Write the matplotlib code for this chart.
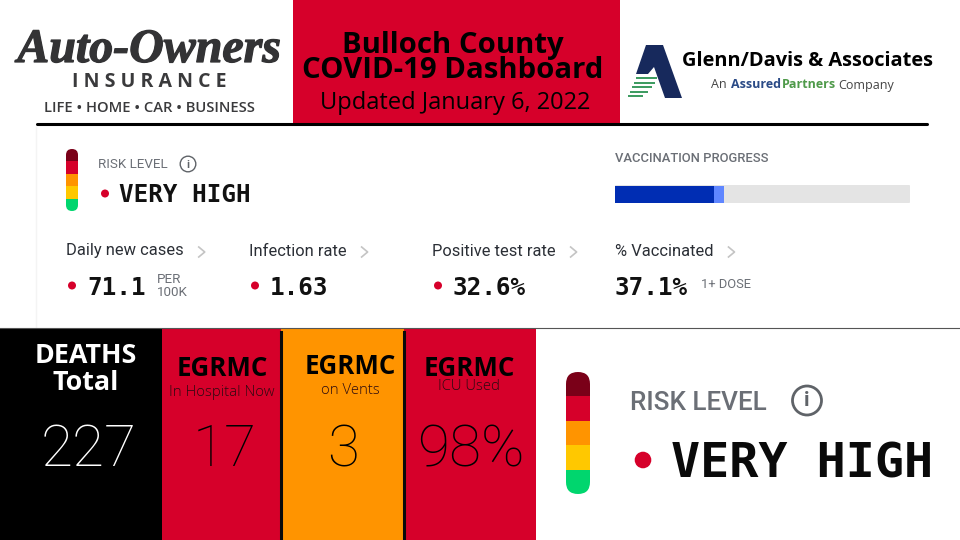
import matplotlib
matplotlib.use("Agg")
import matplotlib.pyplot as plt
import matplotlib.patheffects as pe
from matplotlib.patches import Rectangle, Circle, FancyBboxPatch, Polygon

# data
risk_colors = ["#7a0018", "#d6002a", "#ff9400", "#ffc800", "#00d66e"]
metric_names = ["Daily new cases", "Infection rate", "Positive test rate", "% Vaccinated"]
metric_values = ["71.1", "1.63", "32.6%", "37.1%"]
metric_x = [66, 249, 432, 615]
fully_vaccinated = 33.6
one_dose = 37.1

tile_heads = ["DEATHS\nTotal", "EGRMC", "EGRMC", "EGRMC"]
tile_subs = ["", "In Hospital Now", "on Vents", "ICU Used"]
tile_values = ["227", "17", "3", "98%"]
tile_edges = [0, 162, 281, 404, 536]
tile_colors = ["#000000", "#d6002a", "#ff9400", "#d6002a"]

RED = "#d6002a"
MONO = "DejaVu Sans Mono"

fig = plt.figure(figsize=(9.6, 5.4), dpi=100)
ax = fig.add_axes([0, 0, 1, 1])
ax.set_xlim(0, 960)
ax.set_ylim(540, 0)
ax.axis("off")


def risk_bar(x, y, w, h):
    # stacked colours with round ends
    outline = FancyBboxPatch((x + w / 2, y + w / 2), 0, h - w, boxstyle=f"round,pad={w / 2}",
                             fc="none", ec="none")
    ax.add_patch(outline)
    seg = h / len(risk_colors)
    for i, c in enumerate(risk_colors):
        r = Rectangle((x, y + i * seg), w, seg + 0.3, fc=c, ec="none")
        ax.add_patch(r)
        r.set_clip_path(outline)


def info_icon(x, y, r, lw, size):
    ax.add_patch(Circle((x, y), r, fc="none", ec="#5f6368", lw=lw))
    ax.text(x, y + 0.5, "i", ha="center", va="center", fontsize=size, color="#5f6368",
            family="Roboto", weight="bold")


def chevron(x, y):
    ax.plot([x, x + 6, x], [y - 5, y, y + 5], color="#c4c4c4", lw=1.2)


# header
ax.add_patch(Rectangle((293, 0), 327, 123, fc=RED, ec="none"))
ax.text(453, 58, "Bulloch County\nCOVID-19 Dashboard", ha="center", va="center", fontsize=21.1,
        family="Open Sans", weight="bold", color="black", linespacing=0.86)
ax.text(455, 103, "Updated January 6, 2022", ha="center", va="center", fontsize=17,
        family="Open Sans", color="black")
ax.plot([37, 927], [124, 124], color="black", lw=2.2, solid_capstyle="round")

# left logo
ax.text(149, 50, "Auto-Owners", ha="center", va="center", fontsize=34.5, color="#333335",
        family="Liberation Serif", weight="bold", style="italic",
        path_effects=[pe.withStroke(linewidth=0.9, foreground="#333335")])
ax.text(149, 82, "I N S U R A N C E", ha="center", va="center", fontsize=14, color="#3a3a3c",
        family="Open Sans", weight="bold")
ax.text(149, 108, "LIFE • HOME • CAR • BUSINESS", ha="center", va="center", fontsize=10.6,
        color="#3a3a3c", family="Open Sans", weight="semibold")

# right logo
ax.add_patch(Polygon([[646, 45], [663, 45], [682, 98], [665, 98], [654, 67], [648, 74], [636, 74]],
                     fc="#17295c", ec="none"))
for y0, x0, x1 in zip([77, 81.5, 86, 90.5, 95], [636, 634, 632, 630, 628], [657, 655, 652, 648, 643]):
    ax.add_patch(Rectangle((x0, y0), x1 - x0, 2.3, fc="#3f9c62", ec="none"))
ax.text(807.5, 60.5, "Glenn/Davis & Associates", ha="center", va="center", fontsize=14.4,
        family="Open Sans", weight="bold", color="black")
ax.text(711, 85, "An", va="center", fontsize=9, family="Open Sans", color="#444444")
ax.text(731, 85, "Assured", va="center", fontsize=9, family="Open Sans", weight="bold", color="#2a4a86")
ax.text(782, 85, "Partners", va="center", fontsize=9, family="Open Sans", weight="bold", color="#4f9a4a")
ax.text(838, 85, "Company", va="center", fontsize=9, family="Open Sans", color="#444444")

# dashboard screenshot part
ax.plot([36, 36], [127, 327], color="#f4f4f4", lw=1)
risk_bar(66, 149, 12, 62)
ax.text(98, 164, "RISK LEVEL", va="center", fontsize=9.6, family="Roboto", color="#6b6f76")
info_icon(188, 164, 7.8, 1.0, 8)
ax.add_patch(Circle((105, 193.5), 4, fc=RED, ec="none"))
ax.text(119, 195, "VERY HIGH", va="center", fontsize=17.5, family=MONO, weight="bold", color="#111111")

ax.text(615, 158.5, "VACCINATION PROGRESS", va="center", fontsize=9.4, family="Roboto",
        weight="medium", color="#6b6f76")
track_x, track_w = 615, 295
ax.add_patch(FancyBboxPatch((track_x + 1, 186), track_w - 2, 16, boxstyle="round,pad=1",
                            fc="#e4e4e4", ec="none"))
ax.barh(194, track_w * one_dose / 100, height=17, left=track_x, color="#5f86ff")
ax.barh(194, track_w * fully_vaccinated / 100, height=17, left=track_x, color="#002db3")

for name, val, x in zip(metric_names, metric_values, metric_x):
    t = ax.text(x, 251, name, va="center", fontsize=11.9, family="Roboto", color="#2b2f36")
    ex = t.get_window_extent(fig.canvas.get_renderer())
    chevron(ex.x1 + 15, 252)
    vx = x
    if name != "% Vaccinated":
        ax.add_patch(Circle((x + 6, 285.5), 4, fc=RED, ec="none"))
        vx = x + 21
    ax.text(vx, 288, val, va="center", fontsize=17.5, family=MONO, weight="bold", color="#111111")
ax.text(157, 279.5, "PER", va="center", fontsize=9.6, family="Roboto", color="#6b6f76")
ax.text(157, 292, "100K", va="center", fontsize=9.6, family="Roboto", color="#6b6f76")
ax.text(701, 284.5, "1+ DOSE", va="center", fontsize=9.3, family="Roboto", color="#6b6f76")

# bottom tiles
ax.plot([0, 960], [327.5, 327.5], color="#555555", lw=0.8)
for i in range(len(tile_values)):
    left, right = tile_edges[i], tile_edges[i + 1]
    ax.add_patch(Rectangle((left, 328), right - left, 212, fc=tile_colors[i], ec="none"))
for x in tile_edges[2:4]:
    ax.plot([x, x], [332, 540], color="#0a0a0a", lw=2.2)

ax.text(86, 369.5, tile_heads[0], ha="center", va="center", fontsize=19.4, family="Open Sans",
        weight="bold", color="white", linespacing=1.07)
head_x = [0, 222, 350, 469]
head_y = [0, 368, 366, 368]
sub_x = [0, 222, 350, 469]
sub_y = [0, 392, 390, 387]
for i in range(1, 4):
    ax.text(head_x[i], head_y[i], tile_heads[i], ha="center", va="center", fontsize=18.6,
            family="Open Sans", weight="bold", color="black")
    ax.text(sub_x[i], sub_y[i], tile_subs[i], ha="center", va="center", fontsize=10.7,
            family="Open Sans", weight="light", color="#2a0a10")
val_x = [88.5, 224.5, 343, 471]
val_color = ["white", "black", "black", "black"]
for i in range(4):
    ax.text(val_x[i], 451, tile_values[i], ha="center", va="center", fontsize=42,
            family="Roboto", weight="light", color=val_color[i])

# enlarged risk level
risk_bar(566, 372, 24, 122)
ax.text(630, 403, "RISK LEVEL", va="center", fontsize=18.7, family="Roboto", weight="medium", color="#6b6f76")
info_icon(807, 400.5, 14.5, 2.0, 15)
ax.add_patch(Circle((643, 460), 8.3, fc=RED, ec="none"))
ax.text(671, 464, "VERY HIGH", va="center", fontsize=34.8, family=MONO, weight="bold", color="#0a0a0a")

fig.savefig("out.png", dpi=100)
